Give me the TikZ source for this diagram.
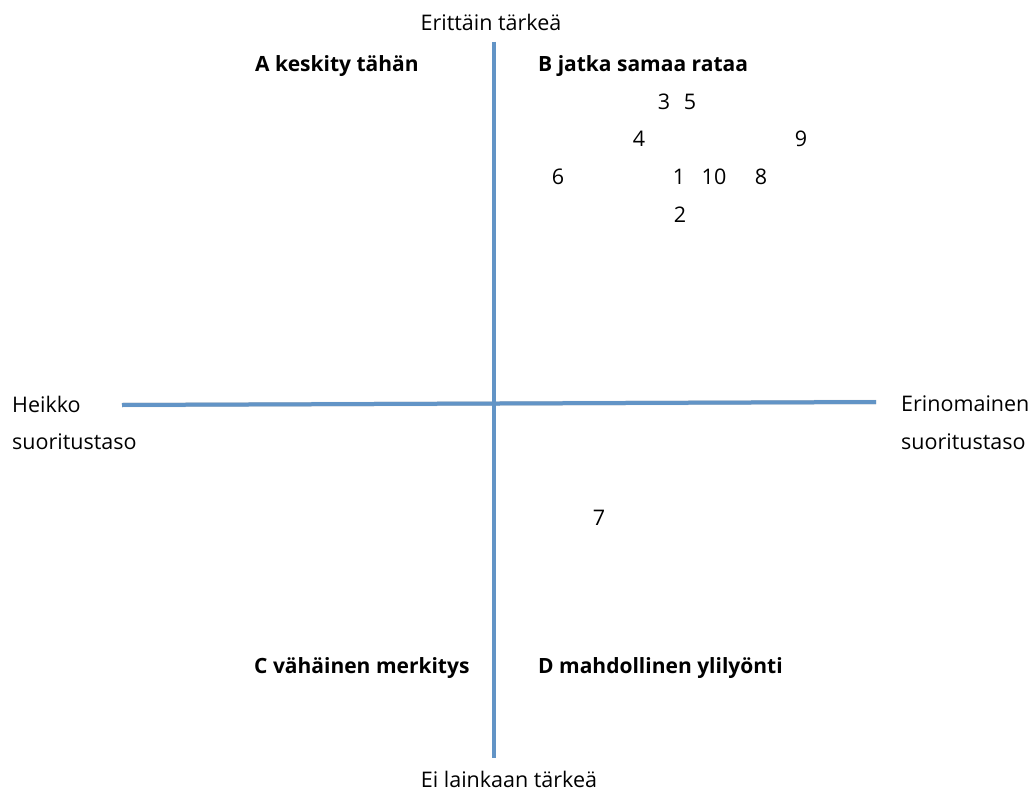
\documentclass[tikz,border=0pt]{standalone}
\usepackage{fontspec}
\setmainfont{Open Sans}
\definecolor{akseli}{RGB}{98,148,198}
\begin{document}
\begin{tikzpicture}[
            x=1pt, y=-1pt,
            teksti/.style={font=\fontsize{21.5}{25}\selectfont, inner sep=0pt},
            otsikko/.style={teksti, font=\fontsize{21}{25}\selectfont\bfseries, anchor=west},
            luku/.style={teksti},
            akseli/.style={draw=akseli, line width=4pt},
            varjo/.style={draw=black, opacity=0.18, line width=4.5pt, shift={(1.5,2.5)}},
        ]
        \useasboundingbox (0,0) rectangle (1031,792);
        % akselit
        \coordinate (ylä) at (494,42);
        \coordinate (ala) at (494,758);
        \coordinate (vasen) at (122,405);
        \coordinate (oikea) at (876,402);
        \draw[varjo] (ylä) -- (ala);
        \draw[varjo] (vasen) -- (oikea);
        \draw[akseli] (ylä) -- (ala);
        \draw[akseli] (vasen) -- (oikea);
        % akselien nimet
        \node[teksti] (tarkea) at (491,22) {Erittäin tärkeä};
        \node[teksti] (eitarkea) at (509,779) {Ei lainkaan tärkeä};
        \node[teksti, anchor=west] (heikko) at (12,404) {Heikko};
        \node[teksti, anchor=west] (heikko2) at (12,442) {suoritustaso};
        \node[teksti, anchor=west] (erino) at (901,404) {Erinomainen};
        \node[teksti, anchor=west] (erino2) at (901,442) {suoritustaso};
        % lohkot
        \node[otsikko] (A) at (255,66) {A keskity tähän};
        \node[otsikko] (B) at (538,66) {B jatka samaa rataa};
        \node[otsikko] (C) at (254,668) {C vähäinen merkitys};
        \node[otsikko] (D) at (538,668) {D mahdollinen ylilyönti};
        % tekijät
        \node[luku] (n1) at (679,177) {1};
        \node[luku] (n2) at (680,215) {2};
        \node[luku] (n3) at (664,102) {3};
        \node[luku] (n4) at (639,139) {4};
        \node[luku] (n5) at (690,102) {5};
        \node[luku] (n6) at (558,177) {6};
        \node[luku] (n7) at (599,518) {7};
        \node[luku] (n8) at (761,177) {8};
        \node[luku] (n9) at (801,139) {9};
        \node[luku] (n10) at (714,177) {10};
    \end{tikzpicture}
\end{document}
